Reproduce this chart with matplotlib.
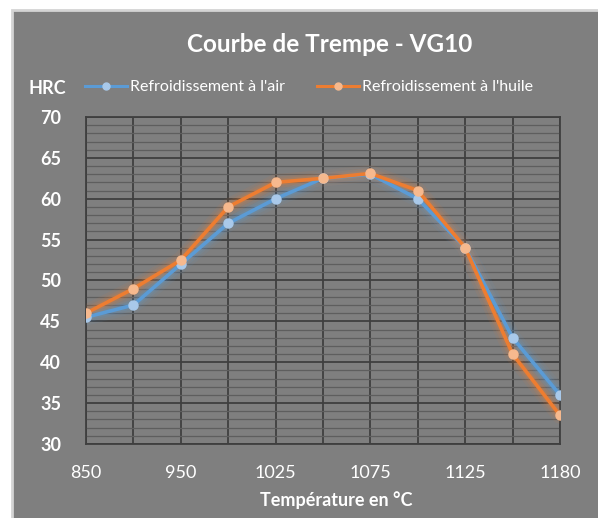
import matplotlib
matplotlib.use("Agg")
import matplotlib.pyplot as plt
from matplotlib.patches import Rectangle
from matplotlib.lines import Line2D
from matplotlib.ticker import MultipleLocator, FixedLocator

temperatures = ["850", "900", "950", "1000", "1025", "1050", "1075", "1100", "1125", "1150", "1180"]
shown_labels = ["850", "", "950", "", "1025", "", "1075", "", "1125", "", "1180"]
air = [45.5, 47, 52, 57, 60, 62.5, 63, 60, 54, 43, 36]
huile = [46, 49, 52.5, 59, 62, 62.5, 63.1, 61, 54, 41, 33.5]

plt.rcParams['font.family'] = ['Lato', 'DejaVu Sans']

W, H = 598, 518
fig = plt.figure(figsize=(W/100, H/100), dpi=100, facecolor='white')
bg = '#7f7f7f'
fig.patches.append(Rectangle((12/W, -0.02), 1 - 12/W + 0.02, (H - 10)/H + 0.02, transform=fig.transFigure,
                             facecolor=bg, edgecolor='#d4d4d4', linewidth=2, zorder=-10))

L, R, T, B = 86, 560, 117, 444
ax = fig.add_axes([L/W, 1 - B/H, (R - L)/W, (B - T)/H])
ax.set_zorder(1)
ax.set_facecolor(bg)
x = list(range(len(temperatures)))

blue, orange = '#5b9bd5', '#ed7d31'
blue_m, orange_m = '#a9c9ea', '#f6b98e'
for vals, c, mc in [(air, blue, blue_m), (huile, orange, orange_m)]:
    for lw, a in [(12, 0.08), (8, 0.12), (5, 0.18)]:
        ax.plot(x, vals, color=c, lw=lw, alpha=a, solid_capstyle='round', zorder=3)
    ax.plot(x, vals, color=c, lw=2.6, zorder=4, marker='o', markersize=6.5,
            markerfacecolor=mc, markeredgecolor=mc)

ax.set_ylim(30, 70)
ax.set_xlim(0, len(temperatures) - 1)
ax.yaxis.set_major_locator(MultipleLocator(5))
ax.yaxis.set_minor_locator(MultipleLocator(1))
ax.xaxis.set_major_locator(FixedLocator(x))
ax.set_xticklabels(shown_labels)
ax.grid(which='major', axis='both', color='#3f3f3f', lw=1.3, zorder=1)
ax.grid(which='minor', axis='y', color='#5e5e5e', lw=0.9, zorder=1)
ax.set_axisbelow(True)
for s in ax.spines.values():
    s.set_color('#3f3f3f')
    s.set_linewidth(1.3)
ax.tick_params(which='both', length=0)
ax.tick_params(axis='y', labelsize=13, labelcolor='white', pad=18)
ax.tick_params(axis='x', labelsize=13, labelcolor='white', pad=15)
for lab in ax.get_yticklabels():
    lab.set_fontweight('bold')

ax.set_xlabel("Température en °C", color='white', fontsize=13, fontweight='bold', labelpad=7)
ax.xaxis.set_label_coords((336 - L) / (R - L), -(500 - B) / (B - T))
ax.xaxis.label.set_va('center')

fig.text(330/W, 1 - 45/H, "Courbe de Trempe - VG10", color='white', fontsize=17.5,
         fontweight='bold', ha='center', va='center')
fig.text(29/W, 1 - 88/H, "HRC", color='white', fontsize=13, fontweight='bold',
         ha='left', va='center')

handles = [Line2D([], [], color=blue, lw=2.2, marker='o', markersize=5,
                  markerfacecolor=blue_m, markeredgecolor=blue_m),
           Line2D([], [], color=orange, lw=2.2, marker='o', markersize=5,
                  markerfacecolor=orange_m, markeredgecolor=orange_m)]
leg = fig.legend(handles, ["Refroidissement à l'air", "Refroidissement à l'huile"],
                 loc='center left', bbox_to_anchor=(85/W, 1 - 87/H), ncol=2, frameon=False,
                 fontsize=11.5, labelcolor='white', handlelength=2.6, handletextpad=0.2,
                 columnspacing=2.05, borderpad=0, borderaxespad=0)

fig.savefig("out.png", dpi=100, facecolor='white')
